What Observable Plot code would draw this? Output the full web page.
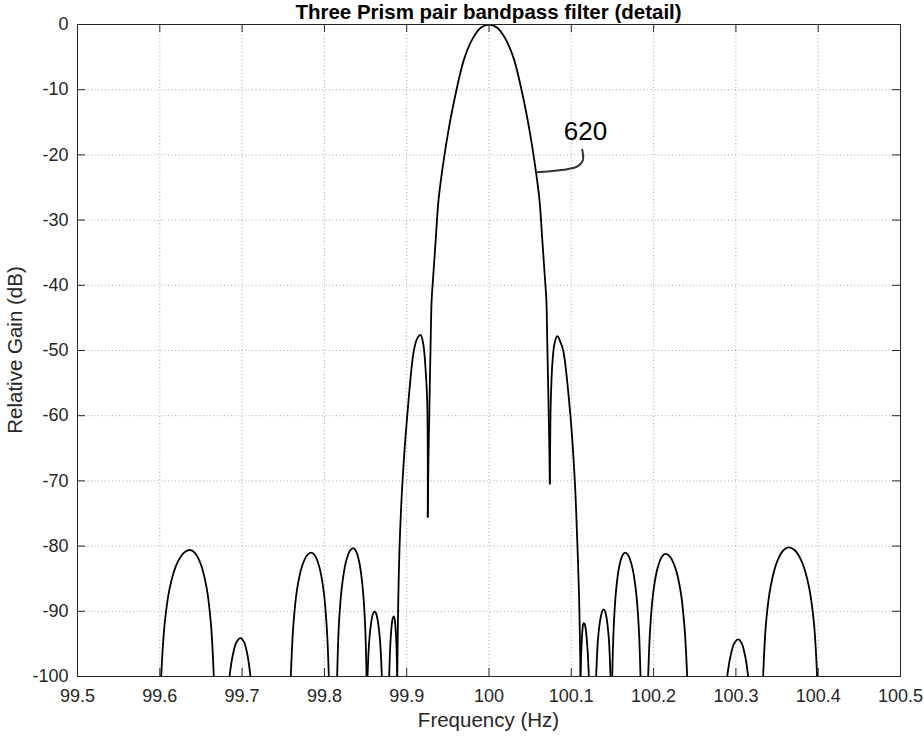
<!DOCTYPE html>
<html>
<head>
<meta charset="utf-8">
<script src="https://cdn.jsdelivr.net/npm/d3@7"></script>
<script src="https://cdn.jsdelivr.net/npm/@observablehq/plot@0.6"></script>
<style>
  html, body { margin: 0; padding: 0; background: #fff; }
  #chart svg { display: block; }
</style>
</head>
<body>
<div id="chart"></div>
<script>
// ---------- texts and ticks ----------
const titleText = "Three Prism pair bandpass filter (detail)";
const xLabelText = "Frequency (Hz)";
const yLabelText = "Relative Gain (dB)";
const xTicks = [99.5, 99.6, 99.7, 99.8, 99.9, 100, 100.1, 100.2, 100.3, 100.4, 100.5];
const yTicks = [0, -10, -20, -30, -40, -50, -60, -70, -80, -90, -100];

// ---------- response curve (Hz, dB) ----------
const sideA_f = [99.6017, 99.6059, 99.6121, 99.6208, 99.6295, 99.6365, 99.6423, 99.6496, 99.6569, 99.6621, 99.6656];
const sideA_g = [-100, -91.9, -86.4, -82.7, -81.0, -80.6, -81.0, -82.7, -86.4, -91.9, -100];

const sideB_f = [99.6847, 99.6887, 99.6933, 99.6980, 99.7023, 99.7065, 99.7102];
const sideB_g = [-100, -96.7, -94.7, -94.1, -94.7, -96.7, -100];

const sideC_f = [99.7592, 99.7622, 99.7666, 99.7728, 99.7790, 99.7840, 99.7883, 99.7936, 99.7990, 99.8028, 99.8054];
const sideC_g = [-100, -92.3, -86.8, -83.1, -81.4, -81.0, -81.4, -83.1, -86.8, -92.3, -100];

const sideD_f = [99.8155, 99.8178, 99.8214, 99.8262, 99.8311, 99.8350, 99.8382, 99.8423, 99.8463, 99.8493, 99.8512];
const sideD_g = [-100, -91.6, -86.1, -82.4, -80.7, -80.3, -80.7, -82.4, -86.1, -91.6, -100];

const sideE_f = [99.8524, 99.8545, 99.8571, 99.8592, 99.8609, 99.8627, 99.8649, 99.8676, 99.8698];
const sideE_g = [-100, -94.5, -91.5, -90.3, -90.0, -90.3, -91.5, -94.5, -100];

const sideF_f = [99.8787, 99.8801, 99.8818, 99.8832, 99.8843, 99.8851, 99.8862, 99.8875, 99.8885];
const sideF_g = [-100, -95.1, -92.1, -91.0, -90.8, -91.0, -92.1, -95.1, -100];

const nearL_f = [99.8885, 99.8898, 99.8916, 99.8949, 99.9006, 99.9087, 99.9130, 99.9168, 99.9200, 99.9228, 99.9249, 99.9256];
const nearL_g = [-100, -88, -79.1, -70.1, -60.1, -50.0, -48.1, -47.6, -48.9, -52.6, -57.7, -75.5];

const main_f = [99.9256, 99.9264, 99.9274, 99.9289, 99.9303, 99.9320, 99.9350, 99.9386, 99.9427, 99.9500, 99.9585, 99.9700, 99.9800, 99.9900, 100.0000,
                100.0100, 100.0200, 100.0300, 100.0415, 100.0500, 100.0573, 100.0614, 100.0650, 100.0680, 100.0697, 100.0710, 100.0726, 100.0733, 100.0739];
const main_g = [-75.5, -67, -60, -50, -42.3, -39.0, -33.5, -27.0, -22.8, -16.8, -11.2, -5.2, -2.2, -0.5, 0,
                -0.5, -2.2, -5.2, -11.2, -16.8, -22.8, -27.0, -33.5, -39.0, -42.3, -50, -60, -65, -70.4];

const nearR_f = [100.0739, 100.0745, 100.0751, 100.0767, 100.0795, 100.0829, 100.0868, 100.0902, 100.0990, 100.1043, 100.1072, 100.1095, 100.1112];
const nearR_g = [-70.4, -62, -57.7, -52.6, -49.0, -47.8, -48.7, -50.0, -60.1, -70.1, -79.1, -88, -100];

const sideF2_f = [100.1112, 100.1122, 100.1134, 100.1144, 100.1152, 100.1164, 100.1179, 100.1198, 100.1213];
const sideF2_g = [-100, -96.0, -93.1, -92.0, -91.8, -92.0, -93.1, -96.0, -100];

const sideE2_f = [100.1302, 100.1325, 100.1353, 100.1376, 100.1395, 100.1411, 100.1431, 100.1456, 100.1476];
const sideE2_g = [-100, -94.2, -91.2, -90.0, -89.7, -90.0, -91.2, -94.2, -100];

const sideD2_f = [100.1497, 100.1516, 100.1544, 100.1583, 100.1623, 100.1654, 100.1691, 100.1738, 100.1785, 100.1819, 100.1841];
const sideD2_g = [-100, -92.3, -86.8, -83.1, -81.4, -81.0, -81.4, -83.1, -86.8, -92.3, -100];

const sideC2_f = [100.1934, 100.1959, 100.1997, 100.2050, 100.2103, 100.2145, 100.2198, 100.2263, 100.2329, 100.2376, 100.2408];
const sideC2_g = [-100, -92.5, -87.0, -83.3, -81.6, -81.2, -81.6, -83.3, -87.0, -92.5, -100];

const sideB2_f = [100.2894, 100.2934, 100.2981, 100.3028, 100.3070, 100.3113, 100.3149];
const sideB2_g = [-100, -96.9, -94.9, -94.3, -94.9, -96.9, -100];

const sideA2_f = [100.3331, 100.3368, 100.3425, 100.3503, 100.3581, 100.3643, 100.3712, 100.3798, 100.3884, 100.3946, 100.3987];
const sideA2_g = [-100, -91.5, -86.0, -82.3, -80.6, -80.2, -80.6, -82.3, -86.0, -91.5, -100];

// ---------- annotation ----------
const annotText = ["620"];
const annotF = [100.1173];
const annotG = [-16.4];
const leader_f = [100.1133, 100.1140, 100.1071, 100.0950, 100.0747, 100.0577];
const leader_g = [-19.2, -20.86, -21.8, -22.2, -22.5, -22.65];

// ---------- build tables ----------
const segments = [
  ["A", sideA_f, sideA_g], ["B", sideB_f, sideB_g], ["C", sideC_f, sideC_g],
  ["D", sideD_f, sideD_g], ["E", sideE_f, sideE_g], ["F", sideF_f, sideF_g],
  ["nL", nearL_f, nearL_g], ["main", main_f, main_g], ["nR", nearR_f, nearR_g],
  ["F2", sideF2_f, sideF2_g], ["E2", sideE2_f, sideE2_g], ["D2", sideD2_f, sideD2_g],
  ["C2", sideC2_f, sideC2_g], ["B2", sideB2_f, sideB2_g], ["A2", sideA2_f, sideA2_g]
];
const rows = segments.flatMap(([seg, fs, gs]) => fs.map((f, i) => ({seg, f, g: gs[i]})));
const leaderRows = leader_f.map((f, i) => ({f, g: leader_g[i]}));
const annotRows = annotText.map((t, i) => ({t, f: annotF[i], g: annotG[i]}));

// ---------- layout ----------
const W = 924, H = 736;
const mT = 24, mR = 24, mB = 60, mL = 77;
const innerW = W - mL - mR, innerH = H - mT - mB;
const tickLen = 8;
const axisColor = "#262626";
const font = "'Liberation Sans', Arial, Helvetica, sans-serif";

const gridStyle = {stroke: axisColor, strokeOpacity: 0.4, strokeDasharray: "1,2.5", strokeWidth: 1};

const chart = Plot.plot({
  width: W, height: H,
  marginTop: mT, marginRight: mR, marginBottom: mB, marginLeft: mL,
  style: {fontFamily: font, fontSize: "18px", color: axisColor, background: "#fff", overflow: "visible"},
  x: {domain: [99.5, 100.5]},
  y: {domain: [-100, 0]},
  marks: [
    Plot.gridX(xTicks, gridStyle),
    Plot.gridY(yTicks, gridStyle),
    Plot.ruleX(xTicks, {x: d => d, insetTop: innerH - tickLen, stroke: axisColor}),
    Plot.ruleX(xTicks, {x: d => d, insetBottom: innerH - tickLen, stroke: axisColor}),
    Plot.ruleY(yTicks, {y: d => d, insetRight: innerW - tickLen, stroke: axisColor}),
    Plot.ruleY(yTicks, {y: d => d, insetLeft: innerW - tickLen, stroke: axisColor}),
    Plot.axisX(xTicks, {tickSize: 0, tickPadding: 13, tickFormat: d => String(d), label: null, fontSize: 18}),
    Plot.axisY(yTicks, {tickSize: 0, tickPadding: 9, tickFormat: d => String(d), label: null, fontSize: 18}),
    Plot.line(rows, {x: "f", y: "g", z: "seg", stroke: "#000", strokeWidth: 1.8, curve: "catmull-rom", clip: true}),
    Plot.line(leaderRows, {x: "f", y: "g", stroke: "#333", strokeWidth: 2, curve: "catmull-rom"}),
    Plot.text(annotRows, {x: "f", y: "g", text: "t", fontSize: 26, fill: "#000", textAnchor: "middle", lineAnchor: "middle"}),
    Plot.frame({stroke: axisColor, strokeWidth: 1})
  ]
});

const svg = d3.select(chart);
svg.append("text")
  .attr("x", mL + innerW / 2).attr("y", 18.5)
  .attr("text-anchor", "middle")
  .attr("font-family", font).attr("font-weight", "bold").attr("font-size", 20.5)
  .attr("fill", "#000")
  .text(titleText);
svg.append("text")
  .attr("x", mL + innerW / 2).attr("y", 727)
  .attr("text-anchor", "middle")
  .attr("font-family", font).attr("font-size", 20.5)
  .attr("fill", axisColor)
  .text(xLabelText);
svg.append("text")
  .attr("transform", `translate(21.5,${mT + innerH / 2}) rotate(-90)`)
  .attr("text-anchor", "middle")
  .attr("font-family", font).attr("font-size", 20.5)
  .attr("fill", axisColor)
  .text(yLabelText);

document.getElementById("chart").appendChild(chart);
</script>
</body>
</html>
